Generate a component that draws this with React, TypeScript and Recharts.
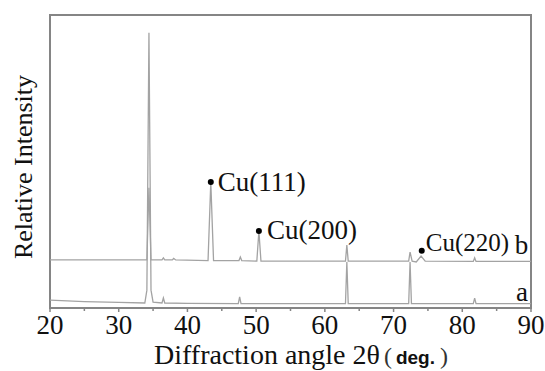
import React from 'react';
import { LineChart, Line, XAxis, YAxis, ReferenceArea, ReferenceDot } from 'recharts';

// Curve a (lower pattern): 2θ and relative intensity
const angleA = [20, 25, 30, 33.8, 34.1, 34.4, 34.7, 35, 36.3, 36.5, 36.7, 40, 47.4, 47.6, 47.8, 55, 63.0, 63.2, 63.4, 72.2, 72.4, 72.6, 81.6, 81.8, 82.0, 90];
const intensityA = [2.7, 2.2, 1.9, 1.7, 6.1, 93.9, 6.1, 2.0, 1.7, 3.4, 1.7, 1.6, 1.5, 3.8, 1.5, 1.5, 1.5, 15.7, 1.5, 1.5, 15.7, 1.5, 1.5, 3.4, 1.5, 1.5];

// Curve b (upper pattern)
const angleB = [20, 30, 34.1, 34.4, 34.7, 36.3, 36.5, 36.7, 37.8, 38.0, 38.3, 43.0, 43.4, 43.8, 47.5, 47.7, 47.9, 50.1, 50.4, 50.7, 63.0, 63.2, 63.4, 72.2, 72.4, 72.7, 73.3, 74.0, 74.6, 81.6, 81.8, 82.0, 90];
const intensityB = [16.4, 16.4, 16.4, 41.0, 16.4, 16.4, 17.1, 16.4, 16.4, 16.9, 16.4, 16.2, 43.0, 16.2, 16.2, 17.4, 16.2, 16.0, 26.3, 16.0, 16.0, 21.5, 16.0, 16.0, 19.1, 16.0, 15.7, 17.7, 16.0, 15.9, 17.1, 15.9, 15.9];

// Peak annotations
const peakNames = ['Cu(111)', 'Cu(200)', 'Cu(220)'];
const peakAngles = [43.4, 50.4, 74.1];
const peakValues = [43.0, 26.3, 19.5];

// Curve names
const curveNames = ['a', 'b'];
const curveNameAngles = [88.7, 88.6];
const curveNameValues = [5.4, 21.6];

const xTicks = [20, 25, 30, 35, 40, 45, 50, 55, 60, 65, 70, 75, 80, 85, 90];

const dataA = angleA.map((x, i) => ({ x, y: intensityA[i] }));
const dataB = angleB.map((x, i) => ({ x, y: intensityB[i] }));

const SERIF = '"Liberation Serif", "Times New Roman", serif';
const SANS = '"Liberation Sans", Arial, sans-serif';
const LINE = '#a3a3a3';
const FRAME = '#858585';

const XTick = (props: any) => {
  const { x, y, payload } = props;
  const major = payload.value % 10 === 0;
  return (
    <g>
      <line x1={x} x2={x} y1={y} y2={y + (major ? 4 : 3)} stroke={FRAME} strokeWidth={1.5} />
      {major && (
        <text x={x} y={y + 26} textAnchor="middle" fontFamily={SERIF} fontSize={27} fill="#111">
          {payload.value}
        </text>
      )}
    </g>
  );
};

const XTitle = () => (
  <text x={154} y={364} fontFamily={SERIF} fontSize={28} fill="#111">
    Diffraction angle 2θ
    <tspan dx={4} fontSize={24} fill="#333">(</tspan>
    <tspan dx={4} fontFamily={SANS} fontWeight="bold" fontSize={19}>deg.</tspan>
    <tspan dx={5} fontSize={24} fill="#333">)</tspan>
  </text>
);

const YTitle = () => (
  <text
    x={23}
    y={167}
    transform="rotate(-90 23 167)"
    textAnchor="middle"
    dominantBaseline="central"
    fontFamily={SERIF}
    fontSize={26}
    fill="#111"
  >
    Relative Intensity
  </text>
);

const makeLabel = (text: string, dx: number, dy: number, anchor: string, size: number) => (props: any) => {
  const vb = props.viewBox || {};
  const cx = (vb.x ?? 0) + (vb.width ?? 0) / 2;
  const cy = (vb.y ?? 0) + (vb.height ?? 0) / 2;
  return (
    <text
      x={cx + dx}
      y={cy + dy}
      textAnchor={anchor}
      dominantBaseline="central"
      fontFamily={SERIF}
      fontSize={size}
      fill="#111"
    >
      {text}
    </text>
  );
};

const peakOffsets = [[7, 0], [8, -1], [4, -8]];

export default function App() {
  return (
    <div style={{ position: 'absolute', left: 0, top: 0, background: '#fff' }}>
      <LineChart width={545} height={371} margin={{ top: 15, right: 14, bottom: 0, left: 0 }}>
        <XAxis
          type="number"
          dataKey="x"
          domain={[20, 90]}
          ticks={xTicks}
          allowDataOverflow
          height={63}
          tickSize={0}
          tickMargin={0}
          tickLine={false}
          axisLine={{ stroke: FRAME, strokeWidth: 2 }}
          tick={<XTick />}
          interval={0}
          label={{ content: <XTitle /> }}
        />
        <YAxis
          type="number"
          domain={[0, 100]}
          width={50}
          tick={false}
          tickLine={false}
          axisLine={false}
          label={{ content: <YTitle /> }}
        />
        <ReferenceArea x1={20} x2={90} y1={0} y2={100} fill="none" stroke={FRAME} strokeWidth={2} ifOverflow="visible" />
        <Line data={dataA} dataKey="y" type="linear" stroke={LINE} strokeWidth={1.3} dot={false} isAnimationActive={false} />
        <Line data={dataB} dataKey="y" type="linear" stroke={LINE} strokeWidth={1.3} dot={false} isAnimationActive={false} />
        {peakNames.map((name, i) => (
          <ReferenceDot
            key={name}
            x={peakAngles[i]}
            y={peakValues[i]}
            r={3}
            fill="#000"
            stroke="none"
            label={{ content: makeLabel(name, peakOffsets[i][0], peakOffsets[i][1], 'start', i === 2 ? 25 : 27) }}
          />
        ))}
        {curveNames.map((name, i) => (
          <ReferenceDot
            key={name}
            x={curveNameAngles[i]}
            y={curveNameValues[i]}
            r={0}
            fill="none"
            stroke="none"
            label={{ content: makeLabel(name, 0, 0, 'middle', 27) }}
          />
        ))}
      </LineChart>
    </div>
  );
}
